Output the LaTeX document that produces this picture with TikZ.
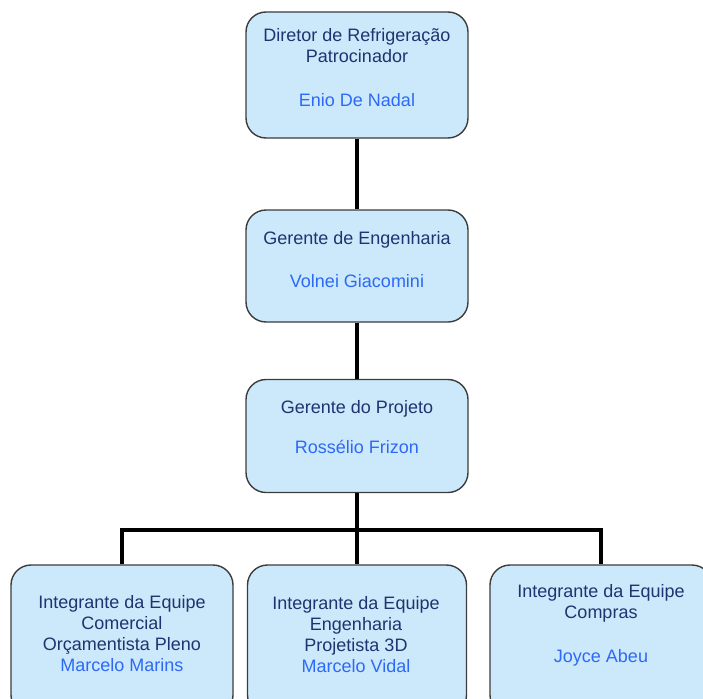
\documentclass[tikz,border=0pt]{standalone}
\usepackage{fontspec}
\setmainfont{Liberation Sans}
\usepackage{tikz}
\definecolor{boxfill}{RGB}{204,233,251}
\definecolor{boxline}{RGB}{60,60,60}
\definecolor{roletext}{RGB}{32,50,112}
\definecolor{nametext}{RGB}{45,105,245}

\begin{document}
\begin{tikzpicture}[x=1pt,y=-1pt,
    box/.style={draw=boxline,line width=1.4pt,fill=boxfill,rounded corners=20pt,inner sep=0pt,minimum width=222pt},
    role/.style={anchor=north,inner sep=0pt,align=center,text=roletext,font=\fontsize{18}{21}\selectfont},
    link/.style={line width=4pt}]
        \useasboundingbox (0,0) rectangle (703,698);
        \clip (0,0) rectangle (703,698);
        \node[box,minimum height=126pt] (dir) at (357,75) {};
        \node[box,minimum height=112pt] (eng) at (357,266) {};
        \node[box,minimum height=113pt] (proj) at (357,436) {};
        \node[box,minimum height=150pt] (team1) at (122,640) {};
        \node[box,minimum height=150pt,minimum width=219pt] (team2) at (357,640) {};
        \node[box,minimum height=150pt] (team3) at (601,640) {};
        \coordinate (bus) at (357,530);
        \draw[link] (dir.south) -- (eng.north);
        \draw[link] (eng.south) -- (proj.north);
        \draw[link] (proj.south) -- (team2.north);
        \draw[link] (team1.north) |- (bus) -| (team3.north);
        \node[role] (dirtext) at (357,28) {Diretor de Refrigeração\\Patrocinador\\[23pt]\textcolor{nametext}{Enio De Nadal}};
        \node[role] (engtext) at (357,231) {Gerente de Engenharia\\[22pt]\textcolor{nametext}{Volnei Giacomini}};
        \node[role] (projtext) at (357,400) {Gerente do Projeto\\[19pt]\textcolor{nametext}{Rossélio Frizon}};
        \node[role] (team1text) at (122,595) {Integrante da  Equipe\\Comercial\\Orçamentista Pleno\\\textcolor{nametext}{Marcelo Marins}};
        \node[role] (team2text) at (356,596) {Integrante da  Equipe\\Engenharia\\Projetista 3D\\\textcolor{nametext}{Marcelo Vidal}};
        \node[role] (team3text) at (601,584) {Integrante da  Equipe\\Compras\\[23pt]\textcolor{nametext}{Joyce Abeu}};
      \end{tikzpicture}
\end{document}
